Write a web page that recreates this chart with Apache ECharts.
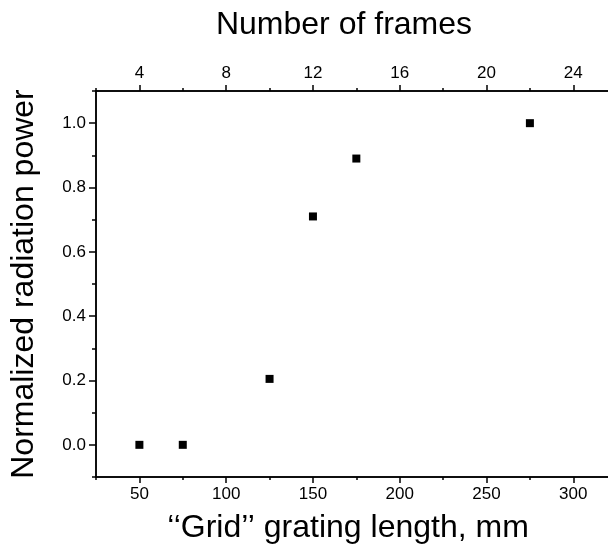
<!DOCTYPE html>
<html>
<head>
<meta charset="utf-8">
<script src="https://cdn.jsdelivr.net/npm/echarts@6/dist/echarts.min.js"></script>
<style>
html,body{margin:0;padding:0;background:#fff;}
#chart{width:608px;height:551px;}
</style>
</head>
<body>
<div id="chart"></div>
<script>
// Data
const gratingLengthMm = [50, 75, 125, 150, 175, 275];
const radiationPower = [0.0, 0.0, 0.205, 0.71, 0.89, 1.0];

// Tick positions / labels
const lengthMajorTicks = [50, 100, 150, 200, 250, 300];
const lengthMinorTicks = [25, 75, 125, 175, 225, 275];
const frameMajorTicks = [4, 8, 12, 16, 20, 24];
const frameMinorTicks = [2, 6, 10, 14, 18, 22];
const powerMajorTicks = [0.0, 0.2, 0.4, 0.6, 0.8, 1.0];
const powerMinorTicks = [-0.1, 0.1, 0.3, 0.5, 0.7, 0.9, 1.1];

const FONT = '"Liberation Sans", Arial, Helvetica, sans-serif';
const lineStyle = {color: '#000', width: 1.5};
const TICK_FONT = 17;
const TITLE_FONT = 32;

const chart = echarts.init(document.getElementById('chart'), null, {renderer: 'canvas'});

function baseAxis(extra) {
  return Object.assign({
    type: 'value',
    splitLine: {show: false},
    axisLine: {show: true, onZero: false, lineStyle: lineStyle}
  }, extra);
}

const option = {
  backgroundColor: '#fff',
  animation: false,
  grid: {left: 95, right: 0, top: 91, bottom: 74, containLabel: false},
  xAxis: [
    baseAxis({
      position: 'bottom', min: 25, max: 320,
      axisTick: {show: true, inside: false, length: 6, lineStyle: lineStyle, customValues: lengthMajorTicks},
      axisLabel: {show: true, color: '#000', fontSize: TICK_FONT, fontFamily: FONT, margin: 9, customValues: lengthMajorTicks},
      name: '‘‘Grid’’ grating length, mm',
      nameLocation: 'middle',
      nameGap: 35,
      nameTextStyle: {color: '#000', fontSize: TITLE_FONT, fontFamily: FONT, padding: [0, 8, 0, 0]}
    }),
    baseAxis({
      position: 'bottom', min: 25, max: 320,
      axisTick: {show: true, inside: false, length: 3, lineStyle: lineStyle, customValues: lengthMinorTicks},
      axisLabel: {show: false}
    }),
    baseAxis({
      position: 'top', min: 2, max: 25.6,
      axisTick: {show: true, inside: false, length: 6, lineStyle: lineStyle, customValues: frameMajorTicks},
      axisLabel: {show: true, color: '#000', fontSize: TICK_FONT, fontFamily: FONT, margin: 9, customValues: frameMajorTicks},
      name: 'Number of frames',
      nameLocation: 'middle',
      nameGap: 50,
      nameTextStyle: {color: '#000', fontSize: TITLE_FONT, fontFamily: FONT, padding: [0, 16, 0, 0]}
    }),
    baseAxis({
      position: 'top', min: 2, max: 25.6,
      axisTick: {show: true, inside: false, length: 3, lineStyle: lineStyle, customValues: frameMinorTicks},
      axisLabel: {show: false}
    })
  ],
  yAxis: [
    baseAxis({
      position: 'left', min: -0.1, max: 1.1,
      axisTick: {show: true, inside: false, length: 7, lineStyle: lineStyle, customValues: powerMajorTicks},
      axisLabel: {show: true, color: '#000', fontSize: TICK_FONT, fontFamily: FONT, margin: 10,
        customValues: powerMajorTicks, formatter: v => Number(v).toFixed(1)},
      name: 'Normalized radiation power',
      nameLocation: 'middle',
      nameGap: 56,
      nameTextStyle: {color: '#000', fontSize: TITLE_FONT, fontFamily: FONT}
    }),
    baseAxis({
      position: 'left', min: -0.1, max: 1.1,
      axisTick: {show: true, inside: false, length: 4, lineStyle: lineStyle, customValues: powerMinorTicks},
      axisLabel: {show: false}
    })
  ],
  series: [{
    type: 'scatter',
    xAxisIndex: 0,
    yAxisIndex: 0,
    symbol: 'rect',
    symbolSize: 8,
    itemStyle: {color: '#000', opacity: 1},
    data: gratingLengthMm.map((x, i) => [x, radiationPower[i]])
  }]
};
chart.setOption(option);
</script>
</body>
</html>
